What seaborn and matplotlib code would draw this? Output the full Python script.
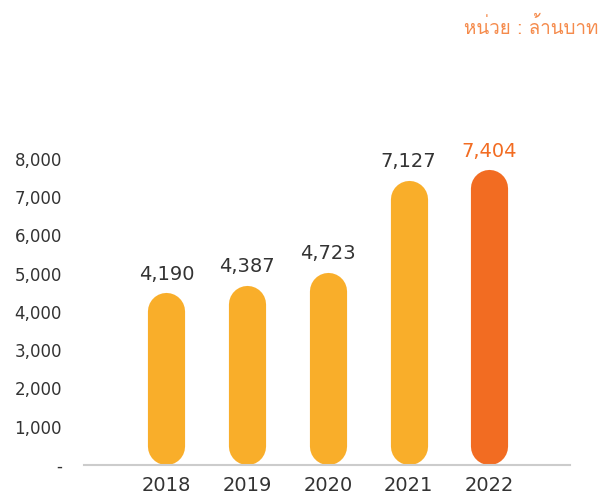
import numpy as np
import pandas as pd
import seaborn as sns
import matplotlib.pyplot as plt
from matplotlib import font_manager
from matplotlib.ft2font import FT2Font


years = ["2018", "2019", "2020", "2021", "2022"]
values = [4190, 4387, 4723, 7127, 7404]
bar_colors = ["#F9AE2A", "#F9AE2A", "#F9AE2A", "#F9AE2A", "#F26C22"]
label_colors = ["#333333", "#333333", "#333333", "#333333", "#F26C22"]
yticks = [0, 1000, 2000, 3000, 4000, 5000, 6000, 7000, 8000]
ytick_labels = ["-", "1,000", "2,000", "3,000", "4,000", "5,000", "6,000", "7,000", "8,000"]
unit_text = "หน่วย : ล้านบาท"


def thai_font():
    # look for any installed font that has Thai glyphs
    for f in font_manager.fontManager.ttflist:
        try:
            if ord("ห") in FT2Font(f.fname).get_charmap():
                return f.name
        except Exception:
            pass
    return "DejaVu Sans"


sns.set_style("white")
plt.rcParams["font.family"] = ["DejaVu Sans"]

df = pd.DataFrame({"year": years, "value": values})

fig = plt.figure(figsize=(6.01, 4.97), dpi=100)
ax = fig.add_axes([0.1398, 0.0644, 0.8089, 0.815])
sns.barplot(data=df, x="year", y="value", hue="year", palette=bar_colors,
            legend=False, width=0.46, ax=ax)

ax.set_xlim(-1.02, 5.0)
ax.set_ylim(0, 10588)

# pixel scale, used to turn each bar into a capsule
fig.canvas.draw()
bbox = ax.get_window_extent()
px_x = bbox.width / (ax.get_xlim()[1] - ax.get_xlim()[0])
px_y = bbox.height / (ax.get_ylim()[1] - ax.get_ylim()[0])

for p, c in zip(list(ax.patches), bar_colors):
    x, w, h = p.get_x(), p.get_width(), p.get_height()
    p.set_visible(False)
    r_px = w * px_x / 2
    r_y = r_px / px_y
    lw = w * px_x * 72 / fig.dpi
    top = h + 12 / px_y - r_y
    ax.plot([x + w / 2, x + w / 2], [r_y, top], color=c, lw=lw,
            solid_capstyle="round", zorder=2)

for i, (v, col) in enumerate(zip(values, label_colors)):
    ax.annotate(f"{v:,}", (i, v), xytext=(0, 18), textcoords="offset points",
                ha="center", va="baseline", fontsize=14, color=col)

ax.set_yticks(yticks)
ax.set_yticklabels(ytick_labels)
ax.tick_params(axis="y", length=0, pad=16, labelsize=12, labelcolor="#333333")
ax.tick_params(axis="x", length=0, pad=8, labelsize=14, labelcolor="#333333")
ax.set_xlabel("")
ax.set_ylabel("")

for side in ["top", "right", "left"]:
    ax.spines[side].set_visible(False)
ax.spines["bottom"].set_color("#CCCCCC")
ax.spines["bottom"].set_linewidth(1.5)
ax.spines["bottom"].set_zorder(3)

fig.text(0.995, 0.945, unit_text, ha="right", va="center", fontsize=13.5,
         color="#F58B4C", family=[thai_font(), "DejaVu Sans"])

plt.savefig("out.png", dpi=100)
